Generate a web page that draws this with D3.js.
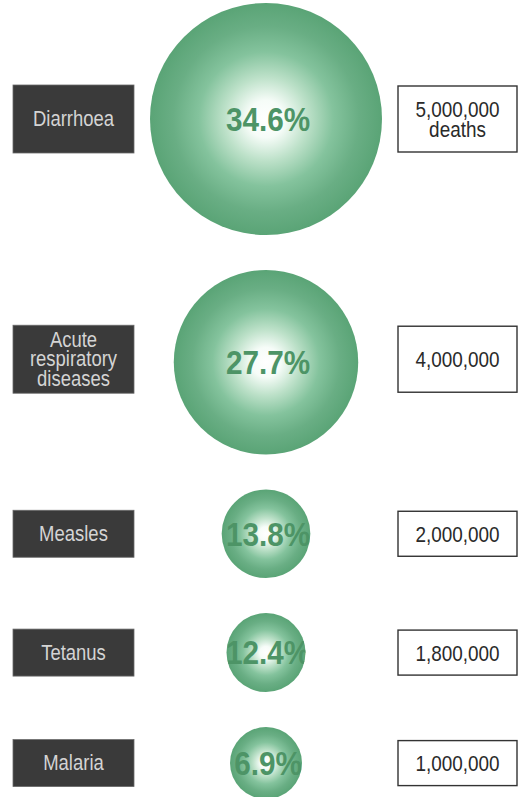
<!DOCTYPE html>
<html>
<head>
<meta charset="utf-8">
<script src="https://cdn.jsdelivr.net/npm/d3@7"></script>
<style>
  html, body { margin: 0; padding: 0; background: #ffffff; }
  svg { display: block; }
</style>
</head>
<body>
<svg id="chart" width="518" height="797"></svg>
<script>
// Causes of child deaths: share of total and number of deaths
const causeLines = [["Diarrhoea"], ["Acute", "respiratory", "diseases"], ["Measles"], ["Tetanus"], ["Malaria"]];
const shares = [34.6, 27.7, 13.8, 12.4, 6.9];
const deaths = [5000000, 4000000, 2000000, 1800000, 1000000];
const deathsUnit = ["deaths", "", "", "", ""];

const font = "'Liberation Sans', Arial, sans-serif";
const svg = d3.select("#chart");
const defs = svg.append("defs");

// Bubble radius grows with the share of deaths
const r = d3.scaleLinear()
  .domain([d3.min(shares), 12.4, d3.max(shares)])
  .range([36, 39.5, 116]);

// Stack the rows: each bubble sits below the previous one with a fixed gap
const rowGap = 35, firstTop = 3;
const cy = [];
shares.forEach((s, i) => {
  cy.push(i === 0 ? firstTop + r(s) : cy[i - 1] + r(shares[i - 1]) + rowGap + r(s));
});

const cx = 266;
const leftX = 13, leftW = 121;
const rightX = 398, rightW = 119;
const fmt = d3.format(",");

// Shared radial shading for the bubbles
const grad = defs.append("radialGradient").attr("id", "ball")
  .attr("cx", "50%").attr("cy", "50%").attr("r", "50%");
[[0, "#ffffff"], [0.16, "#f6fcf8"], [0.36, "#bde1c9"], [0.58, "#84c39d"], [0.8, "#69ae84"], [1, "#5aa476"]]
  .forEach(([o, c]) => grad.append("stop").attr("offset", o).attr("stop-color", c));

// Multi-line condensed text centred on (x, y)
function label(g, x, y, lines, opt) {
  const t = g.append("g").attr("transform", `translate(${x},${y}) scale(${opt.squeeze},1)`)
    .append("text")
    .attr("font-family", font).attr("font-size", opt.size)
    .attr("font-weight", opt.weight || "normal")
    .attr("fill", opt.fill).attr("text-anchor", "middle");
  t.selectAll("tspan").data(lines).join("tspan")
    .attr("x", 0)
    .attr("y", (s, k) => (k - (lines.length - 1) / 2) * opt.lh)
    .attr("dy", "0.36em")
    .text(s => s);
  return t;
}

const rows = svg.selectAll("g.row")
  .data(shares.map((s, i) => ({ i, share: s, lines: causeLines[i], deaths: deaths[i], unit: deathsUnit[i] })))
  .join("g").attr("class", "row");

rows.each(function (d) {
  const g = d3.select(this);
  const y = cy[d.i];
  const rr = r(d.share);
  const rightLines = d.unit ? [fmt(d.deaths), d.unit] : [fmt(d.deaths)];
  const multi = d.lines.length > 1 || rightLines.length > 1;
  const bh = multi ? 68 : 47;
  const by = y - (d.lines.length > 2 ? 3 : 0);

  // Cause label box
  g.append("rect")
    .attr("x", leftX).attr("y", by - bh / 2)
    .attr("width", leftW).attr("height", bh)
    .attr("fill", "#3a3a3a").attr("stroke", "#6a6a6a").attr("stroke-width", 0.8);
  label(g, leftX + leftW / 2, by - 1, d.lines,
    { size: 22, lh: 19.5, fill: "#d4d4d4", squeeze: 0.84 });

  // Bubble
  const clipId = "clip" + d.i;
  defs.append("clipPath").attr("id", clipId)
    .append("circle").attr("cx", cx).attr("cy", y).attr("r", rr);
  g.append("circle")
    .attr("cx", cx).attr("cy", y).attr("r", rr)
    .attr("fill", "url(#ball)");
  g.append("g").attr("clip-path", `url(#${clipId})`)
    .call(c => label(c, cx + 2, y, [d.share.toFixed(1) + "%"],
      { size: 33, lh: 0, fill: "#4d9466", squeeze: 0.9, weight: "bold" }));

  // Deaths box
  const rbh = multi ? 66 : 45;
  g.append("rect")
    .attr("x", rightX).attr("y", by - rbh / 2)
    .attr("width", rightW).attr("height", rbh)
    .attr("fill", "#ffffff").attr("stroke", "#333333").attr("stroke-width", 1.4);
  label(g, rightX + rightW / 2, by, rightLines,
    { size: 22, lh: 20, fill: "#2a2a2a", squeeze: 0.86 });
});
</script>
</body>
</html>
